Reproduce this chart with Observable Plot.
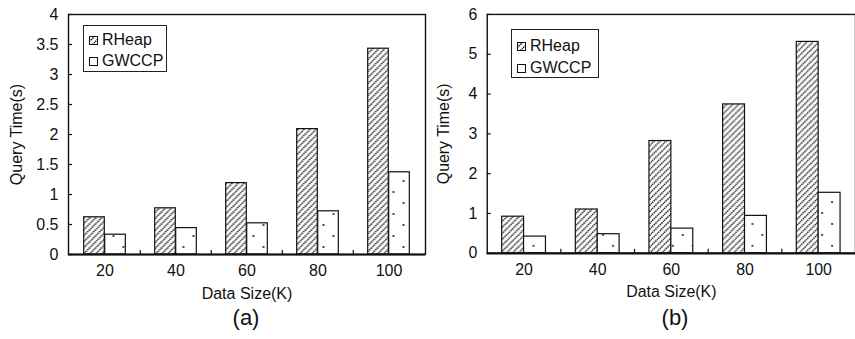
<!DOCTYPE html>
<html>
<head>
<meta charset="utf-8">
<script src="https://cdn.jsdelivr.net/npm/d3@7"></script>
<script src="https://cdn.jsdelivr.net/npm/@observablehq/plot@0.6"></script>
<style>
  html, body { margin: 0; padding: 0; background: #fff; }
  #wrap { position: relative; width: 855px; height: 339px; overflow: hidden;
          font-family: "Liberation Sans", Arial, sans-serif; color: #111; }
  .panel { position: absolute; top: 0; }
  .legend { position: absolute; border: 1px solid #222; background: #fff; font-size: 16px; }
  .legend .row { position: absolute; left: 5px; display: flex; align-items: center; height: 18px; }
  .legend svg { margin-right: 4px; }
  .caption { position: absolute; font-size: 22px; transform: translate(-50%, -50%); }
</style>
</head>
<body>
<div id="wrap"></div>
<script>
// Query time (seconds) per data size, two datasets (a) and (b)
const sizes = ["20", "40", "60", "80", "100"];
const seriesNames = ["RHeap", "GWCCP"];

const rheapA = [0.62, 0.77, 1.19, 2.09, 3.43];
const gwccpA = [0.33, 0.44, 0.52, 0.72, 1.37];
const yTicksA = [0, 0.5, 1, 1.5, 2, 2.5, 3, 3.5, 4];

const rheapB = [0.92, 1.10, 2.82, 3.74, 5.31];
const gwccpB = [0.42, 0.48, 0.62, 0.94, 1.52];
const yTicksB = [0, 1, 2, 3, 4, 5, 6];

const xTitle = "Data Size(K)";
const yTitle = "Query Time(s)";

const patternDefs = `
  <pattern id="hatch" patternUnits="userSpaceOnUse" width="6" height="6">
    <rect width="6" height="6" fill="#fff"/>
    <path d="M-1.5,1.5 L1.5,-1.5 M0,6 L6,0 M4.5,7.5 L7.5,4.5"
          stroke="#222" stroke-width="1.6" stroke-dasharray="1.6,0.8"/>
  </pattern>
  <pattern id="dots" patternUnits="userSpaceOnUse" width="20" height="22">
    <rect width="20" height="22" fill="#fff"/>
    <circle cx="3" cy="16" r="1.1" fill="#222"/>
    <circle cx="13" cy="5" r="1.1" fill="#222"/>
  </pattern>`;

function panel({rheap, gwccp, yMax, yTicks, width, marginLeft, marginRight, yLabelOffset, step, barW}) {
  const rows = (vals, name) => sizes.map((s, i) => ({size: s, series: name, time: vals[i]}));
  const inset = (step - barW) / 2;
  const h = 305, mt = 14, mb = 51;
  const plotH = h - mt - mb;
  const plotW = width - marginLeft - marginRight;
  const svg = Plot.plot({
    width, height: h,
    marginLeft, marginRight, marginTop: mt, marginBottom: mb,
    style: {fontFamily: "Liberation Sans, Arial, sans-serif", fontSize: "16px", color: "#111", background: "transparent"},
    x: {domain: sizes, padding: 0},
    y: {domain: [0, yMax]},
    marks: [
      Plot.barY(rows(rheap, seriesNames[0]), {x: "size", y: "time", fill: "url(#hatch)", stroke: "#111", strokeWidth: 1.2,
        insetLeft: inset, insetRight: inset, dx: -barW / 2}),
      Plot.barY(rows(gwccp, seriesNames[1]), {x: "size", y: "time", fill: "url(#dots)", stroke: "#111", strokeWidth: 1.2,
        insetLeft: inset, insetRight: inset, dx: barW / 2}),
      // short inward ticks between categories
      Plot.ruleX(sizes.slice(1), {x: d => d, dx: -step / 2, insetTop: plotH - 4, stroke: "#111", strokeWidth: 1.2}),
      Plot.axisY({ticks: yTicks, tickSize: 0, tickPadding: 10, fontSize: 16, label: yTitle, labelAnchor: "center",
        labelArrow: "none", labelOffset: yLabelOffset, tickFormat: d => String(d)}),
      // short inward ticks on the value axis
      Plot.ruleY(yTicks, {y: d => d, insetRight: plotW - 4, stroke: "#111", strokeWidth: 1.2}),
      Plot.axisX({tickSize: 0, tickPadding: 10, fontSize: 16, label: xTitle, labelAnchor: "center", labelArrow: "none", labelOffset: 44}),
      Plot.frame({stroke: "#111", strokeWidth: 1.4}),
      Plot.ruleY([0], {stroke: "#111", strokeWidth: 2.2})
    ]
  });
  d3.select(svg).insert("defs", ":first-child").html(patternDefs);
  return svg;
}

const wrap = document.getElementById("wrap");

function addPanel(svg, left) {
  const d = document.createElement("div");
  d.className = "panel";
  d.style.left = left + "px";
  d.appendChild(svg);
  wrap.appendChild(d);
}

function swatch(fill) {
  return `<svg width="9" height="9"><rect x="0.5" y="0.5" width="8" height="8" fill="${fill}" stroke="#111" stroke-width="1"/></svg>`;
}

function addLegend(left, top, w, hgt, rowTops) {
  const lg = document.createElement("div");
  lg.className = "legend";
  Object.assign(lg.style, {left: left + "px", top: top + "px", width: w + "px", height: hgt + "px"});
  const fills = ["url(#hatch)", "#fff"];
  seriesNames.forEach((name, i) => {
    const r = document.createElement("div");
    r.className = "row";
    r.style.top = rowTops[i] + "px";
    r.innerHTML = swatch(fills[i]) + `<span>${name}</span>`;
    lg.appendChild(r);
  });
  wrap.appendChild(lg);
}

function addCaption(text, x, y) {
  const c = document.createElement("div");
  c.className = "caption";
  c.textContent = text;
  c.style.left = x + "px";
  c.style.top = y + "px";
  wrap.appendChild(c);
}

addPanel(panel({rheap: rheapA, gwccp: gwccpA, yMax: 4, yTicks: yTicksA, width: 430,
  marginLeft: 68, marginRight: 5, yLabelOffset: 58, step: 71.4, barW: 21}), 0);
addPanel(panel({rheap: rheapB, gwccp: gwccpB, yMax: 6, yTicks: yTicksB, width: 427,
  marginLeft: 57, marginRight: 0, yLabelOffset: 50, step: 74, barW: 22}), 430);

addLegend(83, 25, 82, 45, [5, 26]);
addLegend(511, 29, 86, 47, [7, 29]);

addCaption("(a)", 246, 318);
addCaption("(b)", 675, 318);
</script>
</body>
</html>
